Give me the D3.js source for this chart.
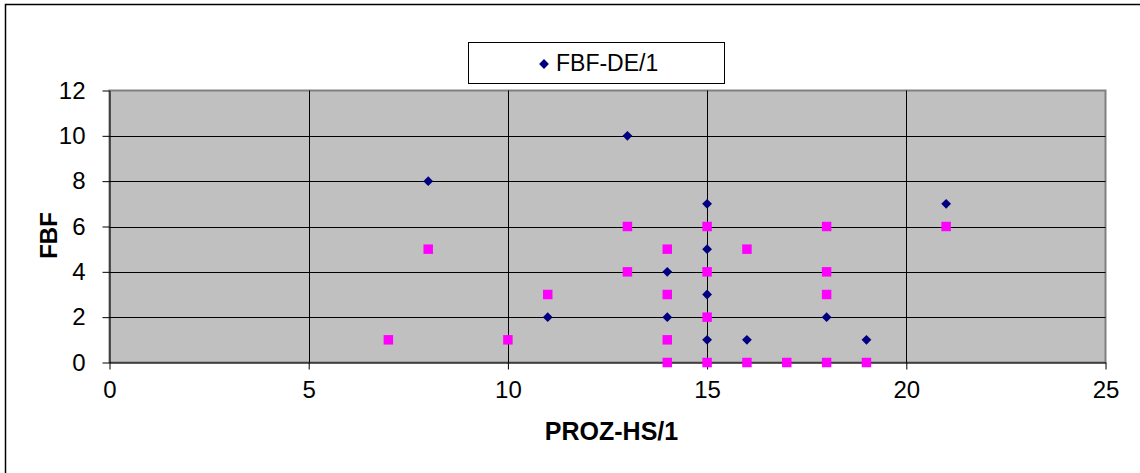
<!DOCTYPE html>
<html>
<head>
<meta charset="utf-8">
<script src="https://cdn.jsdelivr.net/npm/d3@7/dist/d3.min.js"></script>
<style>
  html, body { margin: 0; padding: 0; background: #fff; }
  svg { display: block; }
  text { font-family: "Liberation Sans", Arial, sans-serif; fill: #000; }
</style>
</head>
<body>
<svg id="chart" width="1140" height="473"></svg>
<script>
// FBF-DE/1 series (navy diamonds): PROZ-HS/1 vs FBF
const deX = [8, 13, 11, 14, 14, 15, 15, 15, 15, 16, 18, 19, 21];
const deY = [8, 10, 2, 4, 2, 7, 5, 3, 1, 1, 2, 1, 7];

// second series (magenta squares), not listed in the legend
const sqX = [7, 8, 10, 11, 13, 13, 14, 14, 14, 14, 15, 15, 15, 15, 16, 16, 17, 18, 18, 18, 18, 19, 21];
const sqY = [1, 5, 1, 3, 6, 4, 5, 3, 1, 0, 6, 4, 2, 0, 5, 0, 0, 6, 4, 3, 0, 0, 6];

const xTicks = [0, 5, 10, 15, 20, 25];
const yTicks = [0, 2, 4, 6, 8, 10, 12];

const legendLabel = "FBF-DE/1";
const xTitle = "PROZ-HS/1";
const yTitle = "FBF";

const svg = d3.select("#chart");

// outer chart frame
svg.append("rect")
  .attr("x", 5.5).attr("y", 4.5)
  .attr("width", 1200).attr("height", 600)
  .attr("fill", "#fff").attr("stroke", "#000").attr("stroke-width", 1.5);

const plot = { left: 109.5, right: 1105.5, top: 90.5, bottom: 362.5 };

const x = d3.scaleLinear().domain([0, 25]).range([plot.left, plot.right]);
const y = d3.scaleLinear().domain([0, 12]).range([plot.bottom, plot.top]);

// plot background
svg.append("rect")
  .attr("x", plot.left).attr("y", plot.top)
  .attr("width", plot.right - plot.left).attr("height", plot.bottom - plot.top)
  .attr("fill", "#c0c0c0").attr("stroke", "#808080").attr("stroke-width", 2);

// gridlines
svg.append("g").selectAll("line")
  .data(yTicks.filter(d => d > 0 && d < 12))
  .join("line")
  .attr("x1", plot.left).attr("x2", plot.right)
  .attr("y1", d => Math.round(y(d)) + 0.5).attr("y2", d => Math.round(y(d)) + 0.5)
  .attr("stroke", "#000").attr("stroke-width", 1);

svg.append("g").selectAll("line")
  .data(xTicks.filter(d => d > 0 && d < 25))
  .join("line")
  .attr("x1", d => Math.round(x(d)) + 0.5).attr("x2", d => Math.round(x(d)) + 0.5)
  .attr("y1", plot.top).attr("y2", plot.bottom)
  .attr("stroke", "#000").attr("stroke-width", 1);

// axes
const xAxis = d3.axisBottom(x).tickValues(xTicks).tickSize(7).tickPadding(11).tickSizeOuter(0);
const yAxis = d3.axisLeft(y).tickValues(yTicks).tickSize(7).tickPadding(17).tickSizeOuter(0);

const gx = svg.append("g").attr("transform", `translate(0,${plot.bottom})`).call(xAxis);
const gy = svg.append("g").attr("transform", `translate(${plot.left},0)`).call(yAxis);

[gx, gy].forEach(g => {
  g.select(".domain").attr("stroke", "#000").attr("stroke-width", 1);
  g.selectAll(".tick line").attr("stroke", "#000");
  g.selectAll(".tick text")
    .style("font-family", '"Liberation Sans", Arial, sans-serif')
    .style("font-size", "24px").attr("fill", "#000");
});

// markers: squares first, diamonds on top
const sq = d3.symbol().type(d3.symbolSquare).size(90);
svg.append("g").selectAll("path")
  .data(d3.range(sqX.length))
  .join("path")
  .attr("d", sq)
  .attr("transform", i => `translate(${x(sqX[i])},${y(sqY[i])})`)
  .attr("fill", "#ff00ff");

const dia = d3.symbol().type(d3.symbolSquare).size(48);
svg.append("g").selectAll("path")
  .data(d3.range(deX.length))
  .join("path")
  .attr("d", dia)
  .attr("transform", i => `translate(${x(deX[i])},${y(deY[i])}) rotate(45)`)
  .attr("fill", "#000080");

// axis titles
svg.append("text")
  .attr("x", (plot.left + plot.right) / 2 + 4).attr("y", 440)
  .attr("text-anchor", "middle")
  .style("font-size", "25px").style("font-weight", "bold")
  .text(xTitle);

svg.append("text")
  .attr("transform", `translate(57,${(plot.top + plot.bottom) / 2 + 9}) rotate(-90)`)
  .attr("text-anchor", "middle")
  .style("font-size", "24px").style("font-weight", "bold")
  .text(yTitle);

// legend
const lg = svg.append("g");
lg.append("rect")
  .attr("x", 468.5).attr("y", 42.5).attr("width", 256).attr("height", 41)
  .attr("fill", "#fff").attr("stroke", "#000").attr("stroke-width", 1);
lg.append("path")
  .attr("d", dia)
  .attr("transform", "translate(544,64) rotate(45)")
  .attr("fill", "#000080");
lg.append("text")
  .attr("x", 556).attr("y", 71)
  .style("font-size", "23px")
  .text(legendLabel);
</script>
</body>
</html>
